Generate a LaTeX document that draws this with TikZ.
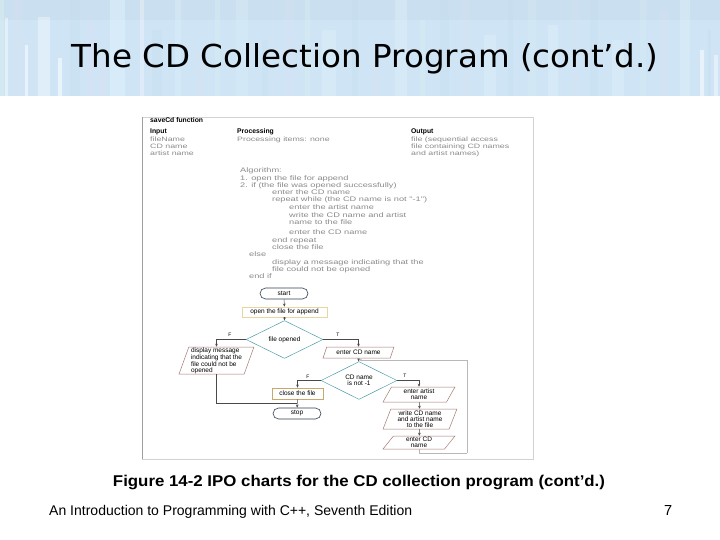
\documentclass[tikz,border=0pt]{standalone}
\usepackage{fontspec}
\setmainfont{Liberation Sans}
\newfontfamily\titlefont{DejaVu Sans}
\newfontfamily\handfont[FakeStretch=1.4]{Liberation Sans}
\usetikzlibrary{shapes.geometric,shapes.misc,arrows.meta}
\definecolor{band}{HTML}{CFE5F5}
\definecolor{bandA}{HTML}{C6DEF0}
\definecolor{bandB}{HTML}{DDEFFA}
\definecolor{bandC}{HTML}{D8E0F4}
\definecolor{bandD}{HTML}{D6EDF0}
\definecolor{bandE}{HTML}{C0D4E4}
\definecolor{termc}{HTML}{2F4050}
\definecolor{rectA}{HTML}{E6D7A2}
\definecolor{rectB}{HTML}{C9A771}
\definecolor{diac}{HTML}{4E9FAE}
\definecolor{parac}{HTML}{A47C70}
\definecolor{linec}{HTML}{4A4A4A}
\definecolor{loopc}{HTML}{B8B8B8}
\definecolor{handc}{HTML}{8A8A8A}
\newcommand\fcfont{\fontsize{6.5}{5.8}\selectfont}
\newcommand\ipofont{\fontsize{6.8}{7.3}\selectfont}
\begin{document}
\begin{tikzpicture}[x=1pt,y=-1pt,
  term/.style={rounded rectangle, draw=termc, line width=0.6pt, minimum width=48pt, minimum height=11pt, inner sep=0pt, font=\fcfont},
  procA/.style={rectangle, draw=rectA, line width=0.6pt, inner sep=0pt, font=\fcfont},
  procB/.style={rectangle, draw=rectB, line width=0.6pt, inner sep=0pt, font=\fcfont},
  dec/.style={diamond, draw=diac, line width=0.5pt, inner sep=0pt, align=center, font=\fcfont},
  para/.style={trapezium, trapezium stretches=true, draw=parac, line width=0.5pt, inner sep=0pt, align=center, font=\fcfont},
  conn/.style={draw=linec, line width=0.5pt, -{Stealth[length=3pt,width=2.6pt]}},
  plain/.style={draw=linec, line width=0.5pt},
  loopl/.style={draw=loopc, line width=0.5pt},
  lbl/.style={font=\fontsize{5}{5}\selectfont, inner sep=0pt},
  hdr/.style={font=\ipofont\bfseries, anchor=base west, inner sep=0pt},
  hand/.style={font=\handfont\fontsize{6.3}{7}\selectfont, text=handc, anchor=base west, inner sep=0pt},
  alg/.style={font=\handfont\fontsize{6.6}{7.3}\selectfont, text=handc, anchor=base west, inner sep=0pt}
]
\useasboundingbox (0,0) rectangle (720,540);
\fill[white] (0,0) rectangle (720,540);
% title band
\fill[band] (0,0) rectangle (720,96);
\fill[bandE, opacity=0.3] (0,0) rectangle (720,20);
\foreach \x/\w/\t/\c/\o in {0/4/0/bandD/0.6,5/3/18/white/0.45,14/8/0/bandC/0.4,25/3/45/white/0.5,38/12/17/white/0.35,58/4/58/white/0.55,70/10/0/bandA/0.4,88/6/20/bandC/0.45,100/5/60/bandC/0.6,110/15/0/bandB/0.6,140/4/0/white/0.3,152/10/30/bandA/0.35,175/6/0/bandB/0.4,196/8/50/bandC/0.4,215/5/0/bandD/0.45,236/12/0/bandB/0.35,262/6/40/bandA/0.35,285/9/0/bandC/0.3,305/5/0/bandD/0.45,322/14/30/bandB/0.45,352/6/0/bandA/0.35,372/8/50/bandC/0.4,395/12/0/bandB/0.45,420/5/20/bandD/0.45,440/9/0/bandA/0.35,462/7/0/bandC/0.35,484/12/35/bandB/0.45,508/5/0/bandA/0.35,528/8/0/bandD/0.35,548/10/25/bandB/0.45,572/6/0/bandC/0.35,590/8/0/bandA/0.35,612/12/40/bandB/0.45,640/6/0/bandD/0.35,660/8/10/bandC/0.35,680/10/0/bandB/0.45,700/4/50/white/0.5,708/3/30/bandA/0.45,714/4/55/white/0.45}
  \fill[\c, opacity=\o] (\x,\t) rectangle (\x+\w,96);
\node[anchor=base, inner sep=0pt] (title) at (365,68) {\resizebox{586pt}{24pt}{\titlefont The CD Collection Program (cont’d.)}};
% figure frame
\draw[gray!35, line width=0.8pt] (142,117) -- (533,117) -- (533,459) -- (142,459);
\draw[gray!75, line width=0.8pt] (142,117) -- (142,459);
% IPO header
\node[hdr] (fn) at (150,123) {saveCd function};
\node[hdr] (hin) at (150,134) {Input};
\node[hdr] (hproc) at (237,134) {Processing};
\node[hdr] (hout) at (411,134) {Output};
\node[hand] (i1) at (150,142) {fileName};
\node[hand] (i2) at (150,149) {CD name};
\node[hand] (i3) at (150,156) {artist name};
\node[hand] (p1) at (237,142) {Processing items: none};
\node[hand] (o1) at (411,142) {file (sequential access};
\node[hand] (o2) at (411,149) {file containing CD names};
\node[hand] (o3) at (411,156) {and artist names)};
% algorithm
\node[alg] (a0) at (240,173) {Algorithm:};
\node[alg] (a1) at (240,181) {1. open the file for append};
\node[alg] (a2) at (240,188) {2. if (the file was opened successfully)};
\node[alg] (a3) at (272,195) {enter the CD name};
\node[alg] (a4) at (272,202) {repeat while (the CD name is not "-1")};
\node[alg] (a5) at (289,210) {enter the artist name};
\node[alg] (a6) at (289,218) {write the CD name and artist};
\node[alg] (a7) at (289,225) {name to the file};
\node[alg] (a8) at (289,234) {enter the CD name};
\node[alg] (a9) at (272,242) {end repeat};
\node[alg] (a10) at (272,249) {close the file};
\node[alg] (a11) at (249,256) {else};
\node[alg] (a12) at (272,264) {display a message indicating that the};
\node[alg] (a13) at (272,271) {file could not be opened};
\node[alg] (a14) at (249,278) {end if};
% flowchart
\node[term] (start) at (284,293.5) {start};
\node[procA, minimum width=85pt, minimum height=10pt] (open) at (284.5,312) {open the file for append};
\node[dec, minimum width=77pt, minimum height=27pt] (dia1) at (284.5,339.5) {file opened};
\node[para, trapezium left angle=71, trapezium right angle=109, minimum width=75pt, minimum height=27pt, align=left] (disp) at (216.5,360.5) {display message\\indicating that the\\file could not be\\opened};
\node[para, trapezium left angle=61, trapezium right angle=119, minimum width=71pt, minimum height=11pt] (entcd) at (358.5,352.5) {enter CD name};
\node[dec, minimum width=76pt, minimum height=27pt] (dia2) at (359,380.5) {CD name\\is not -1};
\node[procB, minimum width=51pt, minimum height=11pt] (close) at (297.5,393.5) {close the file};
\node[term] (stop) at (297,413.5) {stop};
\node[para, trapezium left angle=66, trapezium right angle=114, minimum width=72pt, minimum height=15pt] (artist) at (419,394.5) {enter artist\\name};
\node[para, trapezium left angle=70, trapezium right angle=110, minimum width=74pt, minimum height=20pt] (write) at (420,419) {write CD name\\and artist name\\to the file};
\node[para, trapezium left angle=63, trapezium right angle=117, minimum width=72pt, minimum height=13pt] (entcd2) at (419,442.5) {enter CD\\name};
\coordinate (jn) at (359,360);
\coordinate (lp1) at (467,453);
\coordinate (jst) at (297,403.5);
% connectors
\draw[conn] (start) -- (open);
\draw[conn] (open) -- (dia1);
\draw[conn] (dia1.west) -| (disp.north);
\draw[conn] (dia1.east) -| (entcd.north);
\draw[conn] (entcd) -- (dia2);
\draw[conn] (dia2.west) -| (close.north);
\draw[conn] (dia2.east) -| (artist.north);
\draw[conn] (close) -- (stop);
\draw[plain] (disp.south) |- (jst);
\draw[conn] (artist) -- (write);
\draw[conn] (write) -- (entcd2);
\draw[loopl] (entcd2.south) |- (lp1);
\draw[loopl, -{Stealth[length=3pt,width=2.6pt]}] (lp1) |- (jn);
\node[lbl] (lf1) at (230,335) {F};
\node[lbl] (lt1) at (338,335) {T};
\node[lbl] (lf2) at (308,376.5) {F};
\node[lbl] (lt2) at (405,375.5) {T};
% caption and footer
\node[anchor=base, inner sep=0pt] (cap) at (359,486) {\resizebox{492pt}{11.3pt}{\bfseries Figure 14-2 IPO charts for the CD collection program (cont’d.)}};
\node[anchor=base west, inner sep=0pt] (foot) at (49,515) {\resizebox{363pt}{10.2pt}{An Introduction to Programming with C++, Seventh Edition}};
\node[anchor=base west, inner sep=0pt] (pg) at (664,515) {\resizebox{!}{10pt}{7}};
\end{tikzpicture}
\end{document}
